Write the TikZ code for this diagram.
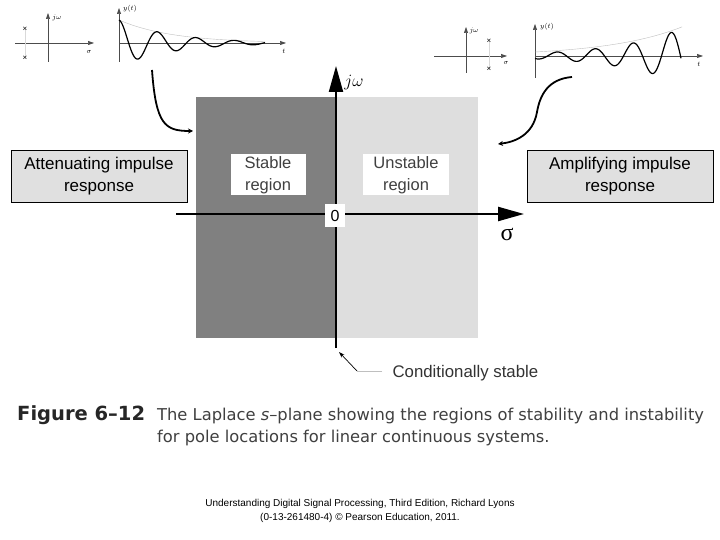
\documentclass[tikz,border=0pt]{standalone}
\usepackage{fontspec}
\setmainfont{Liberation Sans}
\newfontfamily\capfont{DejaVu Sans}
\newfontfamily\greekfont{Liberation Serif}
\usetikzlibrary{arrows.meta,positioning,calc}

\begin{document}
\begin{tikzpicture}[
    x=1pt, y=-1pt,
    txtbox/.style={draw,fill=black!12,line width=0.7pt,
                   minimum height=52pt,align=center,inner sep=0pt,
                   font=\fontsize{17}{22}\selectfont},
    region/.style={fill=white,minimum height=41pt,inner sep=0pt,
                   align=center,text=black!75,
                   font=\fontsize{16.5}{22}\selectfont},
    bigaxis/.style={line width=2.4pt,-{Triangle[length=26pt,width=14pt]}},
    smallaxis/.style={black!70,line width=0.6pt,
                      -{Triangle[length=6pt,width=4pt]}},
    bendarrow/.style={line width=1.8pt,-{Stealth[length=5pt,width=5pt]}},
    pole/.style={inner sep=0pt,font=\fontsize{8}{8}\selectfont},
    tinylabel/.style={inner sep=0pt,font=\fontsize{7}{7}\selectfont}
]

% page
\fill[white] (0,0) rectangle (720,540);

% s-plane regions
\fill[black!50] (196,97) rectangle (336,338);
\fill[black!13] (336,97) rectangle (478,338);

% axes
\coordinate (sl) at (176,214);
\coordinate (sr) at (524,214);
\coordinate (jb) at (336,348);
\coordinate (jt) at (336,66);
\draw[bigaxis] (sl) -- (sr);
\draw[bigaxis,line width=2pt] (jb) -- (jt);

% axis labels
\node (jw)    at (354,83)  {\fontsize{19}{19}\selectfont$j\omega$};
\node (sigma) at (507,234) {\greekfont\fontsize{24}{24}\selectfont σ};
\node[fill=white,minimum width=20pt,minimum height=23pt,inner sep=0pt,
      font=\fontsize{16}{16}\selectfont] (zero) at (335,216) {0};

% regions
\node[region,minimum width=75pt] (stable)   at (268,175) {Stable\\region};
\node[region,minimum width=86pt] (unstable) at (406,175) {Unstable\\region};

% side boxes
\node[txtbox,minimum width=176pt] (atten) at (99,176)
     {Attenuating impulse\\response};
\node[txtbox,minimum width=186pt] (ampl)  at (620,176)
     {Amplifying impulse\\response};

% left pole plot
\draw[smallaxis] (15,43) -- (94,43);
\draw[smallaxis] (48,62) -- (48,13);
\draw[black!15] (25,29) -- (25,58);
\node[pole] (pa) at (25,29) {×};
\node[pole] (pb) at (25,58) {×};
\node[tinylabel] (jwa) at (57,18) {$j\omega$};
\node[tinylabel] (sa)  at (89,52) {$\sigma$};

% decaying response
\draw[smallaxis] (119,62) -- (119,8);
\draw[smallaxis] (119,43) -- (286,43);
\node[tinylabel,anchor=west] (ya) at (123,9) {$y(t)$};
\node[tinylabel] (ta) at (284,51) {$t$};
\draw[black!25,thin] plot[domain=0:146,samples=60]
     ({119+\x},{43-23*exp(-0.0188*\x)});
\draw[line width=1.2pt] plot[domain=0:146,samples=160,smooth]
     ({119+\x},{43-23*exp(-0.0188*\x)*cos(\x/38.5*360)});

% right pole plot
\draw[smallaxis] (434,56) -- (507,56);
\draw[smallaxis] (466,73) -- (466,27);
\draw[black!15] (489,41) -- (489,69);
\node[pole] (pc) at (489,41) {×};
\node[pole] (pd) at (489,69) {×};
\node[tinylabel] (jwb) at (474,31) {$j\omega$};
\node[tinylabel] (sb)  at (506,63) {$\sigma$};

% growing response
\draw[smallaxis] (535,78) -- (535,24);
\draw[smallaxis] (535,56) -- (703,56);
\node[tinylabel,anchor=west] (yb) at (540,27) {$y(t)$};
\node[tinylabel] (tb) at (699,64) {$t$};
\draw[black!25,thin] plot[domain=0:147,samples=60]
     ({535+\x},{56-4*exp(0.0135*\x)});
\draw[line width=1.2pt] plot[domain=0:146,samples=160,smooth]
     ({535+\x},{56-2.85*exp(0.0155*\x)*cos((\x-22)/38*360)});

% curved arrows
\coordinate (la) at (152,70);
\coordinate (lb) at (193,131);
\coordinate (ra) at (572,77);
\coordinate (rm) at (537,112);
\coordinate (rb) at (498,144);
\draw[bendarrow] (la) .. controls (156,125) and (165,131) .. (lb);
\draw[bendarrow] (ra) .. controls (548,79) and (540,95) .. (rm)
                      .. controls (533,135) and (515,142) .. (rb);

% conditionally stable
\node[anchor=west,text=black!80,font=\fontsize{16.8}{16.8}\selectfont]
     (cond) at (389,373) {Conditionally stable};
\coordinate (cg) at (382,371);
\coordinate (ck) at (357,371);
\coordinate (ctip) at (339,352);
\draw[black!25,line width=1pt] (cg) -- (ck);
\draw[line width=0.7pt,-{Stealth[length=6pt,width=4pt]}] (ck) -- (ctip);

% caption
\node[anchor=base west,inner sep=0pt,text=black!85,
      font=\capfont\fontsize{19.5}{22}\selectfont\bfseries] (fig) at (17,420)
     {Figure 6–12};
\node[anchor=north west,inner sep=0pt,align=left,text=black!75,
      font=\capfont\fontsize{16.3}{22}\selectfont] (cap) at (157,407.5)
     {The Laplace \textit{s}–plane showing the regions of stability and instability\\
      for pole locations for linear continuous systems.};

% footer
\node[align=center,font=\fontsize{10}{14}\selectfont] (foot) at (360,511)
     {Understanding Digital Signal Processing, Third Edition, Richard Lyons\\
      (0-13-261480-4) © Pearson Education, 2011.};

\end{tikzpicture}
\end{document}
